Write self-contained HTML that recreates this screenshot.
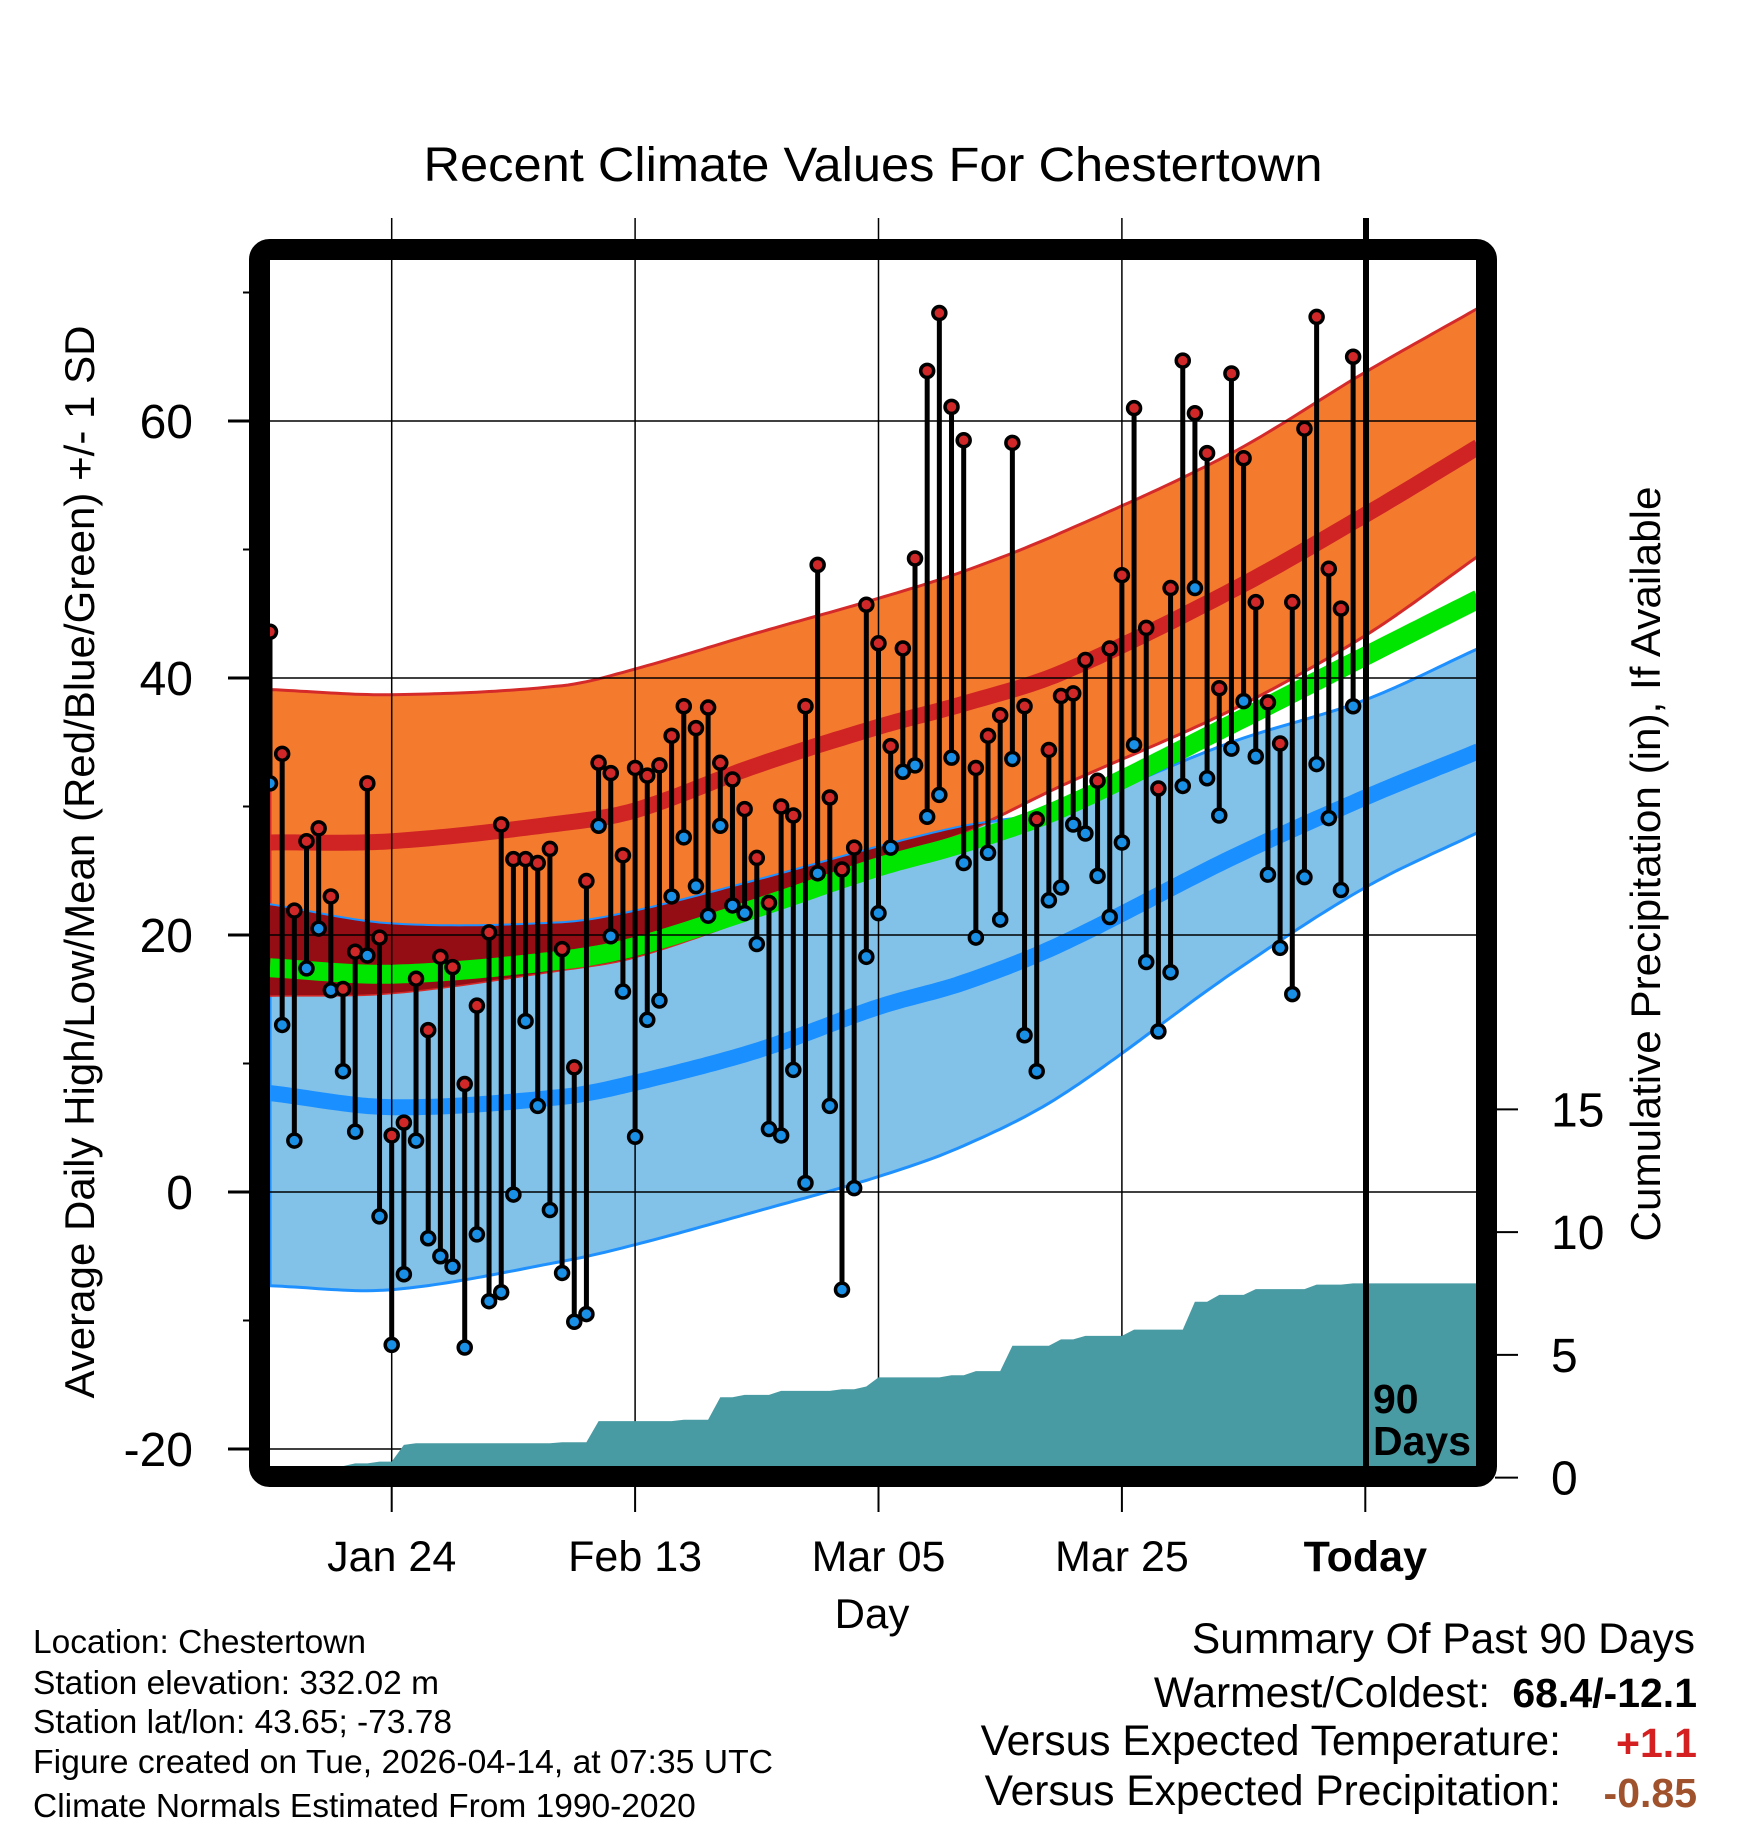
<!DOCTYPE html>
<html><head><meta charset="utf-8"><style>
html,body{margin:0;padding:0;background:#fff;}
svg{display:block;font-family:"Liberation Sans",Arial,sans-serif;}
</style></head><body>
<svg id="chart" xmlns="http://www.w3.org/2000/svg" width="1748" height="1828" viewBox="0 0 1748 1828">
<defs><clipPath id="plotclip"><rect x="270" y="260" width="1208" height="1207"/></clipPath></defs>
<text x="873" y="181" font-size="48" text-anchor="middle" textLength="899" lengthAdjust="spacingAndGlyphs">Recent Climate Values For Chestertown</text>
<g id="bands" clip-path="url(#plotclip)"></g>
<g id="grid"></g>
<g id="precip" clip-path="url(#plotclip)"></g>
<g id="temps" clip-path="url(#plotclip)"></g>
<line x1="1366" y1="218" x2="1366" y2="1467" stroke="#000" stroke-width="6"/>
<text x="1373" y="1413" font-size="41" font-weight="bold">90</text>
<text x="1373" y="1455" font-size="41" font-weight="bold">Days</text>
<rect x="259.5" y="249.5" width="1227" height="1227" rx="10" fill="none" stroke="#000" stroke-width="21"/>
<g id="axes"></g>
<text transform="translate(94,862) rotate(-90)" font-size="42" text-anchor="middle" textLength="1073" lengthAdjust="spacingAndGlyphs">Average Daily High/Low/Mean (Red/Blue/Green) +/- 1 SD</text>
<text transform="translate(1660,864) rotate(-90)" font-size="42" text-anchor="middle" textLength="755" lengthAdjust="spacingAndGlyphs">Cumulative Precipitation (in), If Available</text>
<text x="872" y="1628" font-size="42" text-anchor="middle">Day</text>
<g font-size="33.5">
<text x="33" y="1653" textLength="333" lengthAdjust="spacingAndGlyphs">Location: Chestertown</text>
<text x="33" y="1694">Station elevation: 332.02 m</text>
<text x="33" y="1733">Station lat/lon: 43.65; -73.78</text>
<text x="33" y="1773" textLength="740" lengthAdjust="spacingAndGlyphs">Figure created on Tue, 2026-04-14, at 07:35 UTC</text>
<text x="33" y="1817">Climate Normals Estimated From 1990-2020</text>
</g>
<g font-size="42.5">
<text x="1695" y="1653" text-anchor="end">Summary Of Past 90 Days</text>
<text x="1490" y="1707" text-anchor="end">Warmest/Coldest:</text>
<text x="1697" y="1707" text-anchor="end" font-weight="bold" font-size="41">68.4/-12.1</text>
<text x="1561" y="1755" text-anchor="end">Versus Expected Temperature:</text>
<text x="1697" y="1757" text-anchor="end" font-weight="bold" font-size="41" fill="#d42020">+1.1</text>
<text x="1561" y="1805" text-anchor="end">Versus Expected Precipitation:</text>
<text x="1697" y="1807" text-anchor="end" font-weight="bold" font-size="41" fill="#a0522d">-0.85</text>
</g>
</svg>
<script>
// ---- data ----
const highs = [43.6,34.1,21.9,27.3,28.3,23.0,15.8,18.7,31.8,19.8,4.4,5.4,16.6,12.6,18.3,17.5,8.4,14.5,20.2,28.6,25.9,25.9,25.6,26.7,18.9,9.7,24.2,33.4,32.6,26.2,33.0,32.4,33.2,35.5,37.8,36.1,37.7,33.4,32.1,29.8,26.0,22.5,30.0,29.3,37.8,48.8,30.7,25.1,26.8,45.7,42.7,34.7,42.3,49.3,63.9,68.4,61.1,58.5,33.0,35.5,37.1,58.3,37.8,29.0,34.4,38.6,38.8,41.4,32.0,42.3,48.0,61.0,43.9,31.4,47.0,64.7,60.6,57.5,39.2,63.7,57.1,45.9,38.1,34.9,45.9,59.4,68.1,48.5,45.4,65.0];
const lows = [31.8,13.0,4.0,17.4,20.5,15.7,9.4,4.7,18.4,-1.9,-11.9,-6.4,4.0,-3.6,-5.0,-5.8,-12.1,-3.3,-8.5,-7.8,-0.2,13.3,6.7,-1.4,-6.3,-10.1,-9.5,28.5,19.9,15.6,4.3,13.4,14.9,23.0,27.6,23.8,21.5,28.5,22.3,21.7,19.3,4.9,4.4,9.5,0.7,24.8,6.7,-7.6,0.3,18.3,21.7,26.8,32.7,33.2,29.2,30.9,33.8,25.6,19.8,26.4,21.2,33.7,12.2,9.4,22.7,23.7,28.6,27.9,24.6,21.4,27.2,34.8,17.9,12.5,17.1,31.6,47.0,32.2,29.3,34.5,38.2,33.9,24.7,19.0,15.4,24.5,33.3,29.1,23.5,37.8];
const precip = [0.42,0.45,0.46,0.47,0.47,0.47,0.47,0.58,0.58,0.65,0.65,1.33,1.40,1.40,1.40,1.40,1.40,1.40,1.40,1.40,1.40,1.40,1.40,1.40,1.44,1.44,1.44,2.30,2.30,2.30,2.30,2.30,2.30,2.30,2.36,2.36,2.36,3.27,3.27,3.37,3.37,3.37,3.53,3.53,3.53,3.53,3.53,3.60,3.60,3.71,4.08,4.08,4.08,4.08,4.08,4.08,4.17,4.17,4.34,4.34,4.34,5.37,5.37,5.37,5.37,5.63,5.63,5.77,5.77,5.77,5.77,6.03,6.03,6.03,6.03,6.03,7.16,7.16,7.44,7.44,7.44,7.68,7.68,7.68,7.68,7.68,7.86,7.86,7.86,7.91];
const normDays = [0,10,24,30,40,50,57,65,79,90,99.3];
const hiUpper = [39.1,38.7,39.4,40.7,43.5,46.2,48.3,51.3,57.5,63.8,68.8];
const hiMean  = [27.2,27.3,28.7,29.7,33.2,36.2,38.0,40.4,46.8,52.7,58.0];
const hiLower = [15.3,15.5,17.3,18.3,21.6,25.9,28.0,31.6,37.5,43.3,49.5];
const loUpper = [22.4,20.9,21.0,21.9,24.3,26.9,28.5,29.8,35.0,38.3,42.3];
const loMean  = [7.7,6.6,7.4,8.5,11.0,14.4,16.3,19.3,26.0,30.7,34.3];
const loLower = [-7.3,-7.6,-5.4,-4.1,-1.5,1.2,3.6,7.5,17.0,23.7,28.0];
const yTicks = [-20,0,20,40,60];
const yMinor = [-10,10,30,50,70];
const pTicks = [0,5,10,15];
const xTickDays = [10,30,50,70,90];
const xTickLabels = ["Jan 24","Feb 13","Mar 05","Mar 25","Today"];

// ---- scales ----
const X0=270, DX=12.17, Y0=1192, DY=12.85, P0=1477.6, DP=24.55;
function xs(d){return X0+DX*d;}
function ys(v){return Y0-DY*v;}
function yp(v){return P0-DP*v;}
function slope(arr,k){
  const n=normDays.length;
  const a=Math.max(0,k-1), b=Math.min(n-1,k+1);
  return (arr[b]-arr[a])/(normDays[b]-normDays[a]);
}
function interp(arr,d){
  const n=normDays.length;
  for(let k=0;k<n-1;k++){
    if(d<=normDays[k+1]){
      const h=normDays[k+1]-normDays[k];
      const t=(d-normDays[k])/h;
      const m0=slope(arr,k)*h, m1=slope(arr,k+1)*h;
      const t2=t*t,t3=t2*t;
      return (2*t3-3*t2+1)*arr[k]+(t3-2*t2+t)*m0+(-2*t3+3*t2)*arr[k+1]+(t3-t2)*m1;
    }
  }
  return arr[n-1];
}
const NS="http://www.w3.org/2000/svg";
function mk(tag,attrs,parent){const e=document.createElementNS(NS,tag);for(const k in attrs)e.setAttribute(k,attrs[k]);parent.appendChild(e);return e;}
const dense=[];for(let d=0;d<=99.3;d+=0.5)dense.push(d);dense.push(99.3);
function curve(fn){return dense.map(d=>xs(d).toFixed(1)+","+ys(fn(d)).toFixed(1));}
function band(fa,fb){return curve(fa).concat(curve(fb).reverse()).join(" ");}

const bands=document.getElementById('bands');
let e;
e=mk('polygon',{points:band(d=>interp(loUpper,d),d=>interp(loLower,d)),fill:'#82c1e8',stroke:'#1e90ff','stroke-width':3},bands);


e=mk('polygon',{points:band(d=>interp(hiUpper,d),d=>interp(hiLower,d)),fill:'#f47a2e',stroke:'#d42a2a','stroke-width':3},bands);


e=mk('polygon',{points:band(d=>Math.max(interp(hiLower,d),interp(loUpper,d)),d=>interp(hiLower,d)),fill:'#940d14'},bands);


e=mk('polyline',{points:curve(d=>interp(loUpper,d)).join(" "),fill:'none',stroke:'#1e90ff','stroke-width':2},bands);


e=mk('polyline',{points:curve(d=>(interp(hiMean,d)+interp(loMean,d))/2).join(" "),fill:'none',stroke:'#00e600','stroke-width':19},bands);


e=mk('polyline',{points:curve(d=>interp(hiMean,d)).join(" "),fill:'none',stroke:'#d02424','stroke-width':16},bands);


e=mk('polyline',{points:curve(d=>interp(loMean,d)).join(" "),fill:'none',stroke:'#1a8fff','stroke-width':16},bands);



const grid=document.getElementById('grid');
yTicks.forEach(v=>{
  const g=mk('line',{x1:270,x2:1478,y1:ys(v),y2:ys(v),stroke:'#000','stroke-width':1.5},grid);
  
  
});
xTickDays.forEach(d=>{
  const g=mk('line',{x1:xs(d),x2:xs(d),y1:218,y2:1467,stroke:'#000','stroke-width':1.5},grid);
  
  
});

const pg=document.getElementById('precip');
const pts=[xs(0)+","+1480];
precip.forEach((v,i)=>pts.push(xs(i).toFixed(1)+","+yp(v).toFixed(1)));
pts.push("1480,"+yp(precip[precip.length-1]).toFixed(1));
pts.push("1480,1480");
e=mk('polygon',{points:pts.join(" "),fill:'#489ba3'},pg);



const tg=document.getElementById('temps');
highs.forEach((h,i)=>{
  const x=xs(i);
  const s=mk('line',{x1:x,x2:x,y1:ys(h),y2:ys(lows[i]),stroke:'#000','stroke-width':5},tg);
  
  
});
highs.forEach((h,i)=>{
  const x=xs(i);
  const a=mk('circle',{cx:x,cy:ys(h),r:6.5,fill:'#d02828',stroke:'#000','stroke-width':3.5},tg);
  
  
  const b=mk('circle',{cx:x,cy:ys(lows[i]),r:6.5,fill:'#1a8fe6',stroke:'#000','stroke-width':3.5},tg);
  
  
});

const ax=document.getElementById('axes');
yTicks.forEach(v=>{
  const t=mk('line',{x1:228,x2:250,y1:ys(v),y2:ys(v),stroke:'#000','stroke-width':3},ax);
  
  
  const l=mk('text',{x:193,y:ys(v)+17,'font-size':48,'text-anchor':'end'},ax);
  l.textContent=String(v);
  
  
});
yMinor.forEach(v=>{
  const t=mk('line',{x1:243,x2:250,y1:ys(v),y2:ys(v),stroke:'#000','stroke-width':2},ax);
  
  
});
pTicks.forEach(v=>{
  const t=mk('line',{x1:1495,x2:1518,y1:yp(v),y2:yp(v),stroke:'#000','stroke-width':2},ax);
  
  
  const l=mk('text',{x:1551,y:yp(v)+17,'font-size':48},ax);
  l.textContent=String(v);
  
  
});
xTickDays.forEach((d,k)=>{
  const t=mk('line',{x1:xs(d),x2:xs(d),y1:1486,y2:1512,stroke:'#000','stroke-width':2},ax);
  
  
  const l=mk('text',{x:xs(d),y:1571,'font-size':43,'text-anchor':'middle'},ax);
  if(xTickLabels[k]==="Today") l.setAttribute('font-weight','bold');
  l.textContent=xTickLabels[k];
  
  
});
</script>
</body></html>
